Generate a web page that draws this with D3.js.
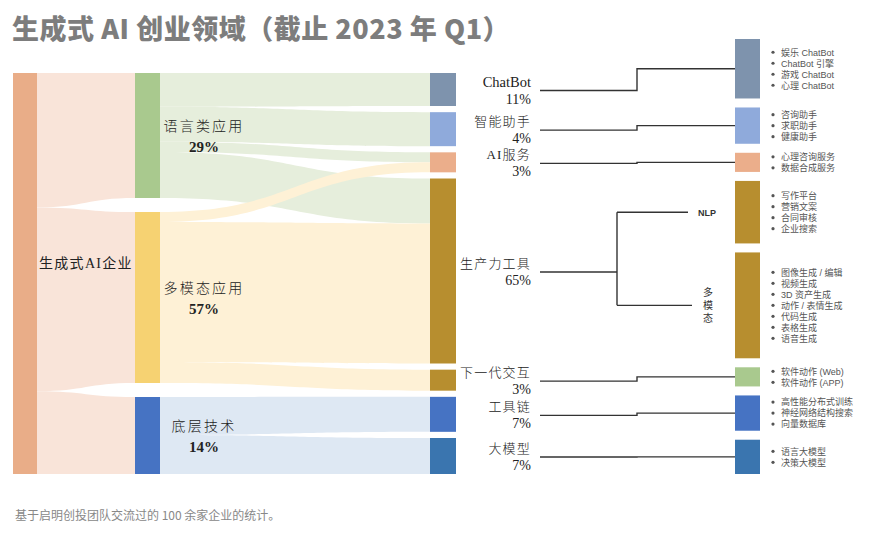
<!DOCTYPE html>
<html><head><meta charset="utf-8">
<script src="https://cdn.jsdelivr.net/npm/d3@7"></script>
<style>body{margin:0;background:#fff} svg{display:block}</style>
</head><body>
<svg id="chart" width="877" height="546"></svg>
<script>
// ---------- data ----------
const title = "生成式 AI 创业领域（截止 2023 年 Q1）";
const footnote = "基于启明创投团队交流过的 100 余家企业的统计。";

const rootName = "生成式AI企业";
const groups = ["语言类应用", "多模态应用", "底层技术"];
const groupPct = ["29%", "57%", "14%"];
const groupFlow = [125, 171, 77];            // flow units root -> group

const categories = ["ChatBot", "智能助手", "AI服务", "生产力工具", "下一代交互", "工具链", "大模型"];
const categoryPct = ["11%", "4%", "3%", "65%", "3%", "7%", "7%"];

const linkSource = [0, 0, 0, 0, 1, 1, 1, 2, 2];
const linkTarget = [0, 1, 2, 3, 2, 3, 4, 5, 6];
const linkValue  = [33, 34, 10, 45, 10, 140, 21, 35, 36];

const detailCategory = [0, 1, 2, 3, 3, 4, 5, 6];
const detailBranch = ["", "", "", "NLP", "多模态", "", "", ""];
const detailWeight = [59, 36, 19, 62, 105, 19, 35, 34];
const detailItems = [
  ["娱乐 ChatBot", "ChatBot 引擎", "游戏 ChatBot", "心理 ChatBot"],
  ["咨询助手", "求职助手", "健康助手"],
  ["心理咨询服务", "数据合成服务"],
  ["写作平台", "营销文案", "合同审核", "企业搜索"],
  ["图像生成 / 编辑", "视频生成", "3D 资产生成", "动作 / 表情生成", "代码生成", "表格生成", "语音生成"],
  ["软件动作 (Web)", "软件动作 (APP)"],
  ["高性能分布式训练", "神经网络结构搜索", "向量数据库"],
  ["语言大模型", "决策大模型"]
];

// ---------- styles ----------
const rootColor = "#E9AD88", rootLink = "#F9E4D9";
const groupColors = ["#A9C98E", "#F6D272", "#4673C3"];
const groupLinkColors = ["#E6EEDC", "#FEF1D6", "#DEE8F3"];
const catColors = ["#7E93AD", "#8FAADB", "#EBAE8B", "#B78E2F", "#B78E2F", "#4673C3", "#3A75AF"];
const detailColors = ["#7E93AD", "#8FAADB", "#EBAE8B", "#B78E2F", "#B78E2F", "#A9C98E", "#4673C3", "#3A75AF"];
const serif = "'Liberation Serif','Noto Sans CJK SC',serif";
const sans = "'Noto Sans CJK SC','Noto Sans',sans-serif";
const smallSans = "'Liberation Sans','Noto Sans CJK SC',sans-serif";

// ---------- layout ----------
const svg = d3.select("#chart");
const yTop = 73, yBottom = 474, H = yBottom - yTop;
const xRoot = [13, 37], xGroup = [135, 160], xCat = [430, 456], xDetail = [735, 760];

const padMid = 14;
const k = (H - padMid * (groups.length - 1)) / d3.sum(groupFlow);
const unit = d3.scaleLinear().domain([0, 1]).range([0, k]);

// group nodes
let yy = yTop;
const groupNodes = groups.map((g, i) => {
  const h = unit(groupFlow[i]);
  const n = {y0: yy, y1: yy + h};
  yy += h + padMid;
  return n;
});
// category nodes
const catValue = categories.map((c, j) => d3.sum(linkValue.filter((v, i) => linkTarget[i] === j)));
const padCat = (H - unit(d3.sum(catValue))) / (categories.length - 1);
yy = yTop;
const catNodes = categories.map((c, j) => {
  const h = unit(catValue[j]);
  const n = {y0: yy, y1: yy + h};
  yy += h + padCat;
  return n;
});

// root -> group bands (proportional over the root node)
const rootScale = d3.scaleLinear().domain([0, d3.sum(groupFlow)]).range([yTop, yBottom]);
const cum = d3.cumsum(groupFlow);
const rootLinks = groups.map((g, i) => ({
  x0: xRoot[1], x1: xGroup[0],
  s0: rootScale(cum[i] - groupFlow[i]), s1: rootScale(cum[i]),
  t0: groupNodes[i].y0, t1: groupNodes[i].y1, color: rootLink
}));

// group -> category bands
const srcOff = groups.map(() => 0), tgtOff = categories.map(() => 0);
const groupOut = groups.map((g, i) => d3.sum(linkValue.filter((v, l) => linkSource[l] === i)));
const catLinks = linkValue.map((v, l) => {
  const s = linkSource[l], t = linkTarget[l];
  const gs = d3.scaleLinear().domain([0, groupOut[s]]).range([groupNodes[s].y0, groupNodes[s].y1]);
  const cs = d3.scaleLinear().domain([0, catValue[t]]).range([catNodes[t].y0, catNodes[t].y1]);
  const lk = {x0: xGroup[1], x1: xCat[0],
    s0: gs(srcOff[s]), s1: gs(srcOff[s] + v),
    t0: cs(tgtOff[t]), t1: cs(tgtOff[t] + v), color: groupLinkColors[s]};
  srcOff[s] += v; tgtOff[t] += v;
  return lk;
});

function ribbon(d) {
  const p = d3.path(), xm = (d.x0 + d.x1) / 2;
  p.moveTo(d.x0, d.s0);
  p.bezierCurveTo(xm, d.s0, xm, d.t0, d.x1, d.t0);
  p.lineTo(d.x1, d.t1);
  p.bezierCurveTo(xm, d.t1, xm, d.s1, d.x0, d.s1);
  p.closePath();
  return p.toString();
}

svg.append("g").selectAll("path").data(rootLinks.concat(catLinks)).join("path")
  .attr("d", ribbon).attr("fill", d => d.color);

// nodes
svg.append("rect").attr("x", xRoot[0]).attr("y", yTop).attr("width", xRoot[1] - xRoot[0])
  .attr("height", H).attr("fill", rootColor);
svg.append("g").selectAll("rect").data(groupNodes).join("rect")
  .attr("x", xGroup[0]).attr("y", d => d.y0).attr("width", xGroup[1] - xGroup[0])
  .attr("height", d => d.y1 - d.y0).attr("fill", (d, i) => groupColors[i]);
svg.append("g").selectAll("rect").data(catNodes).join("rect")
  .attr("x", xCat[0]).attr("y", d => d.y0).attr("width", xCat[1] - xCat[0])
  .attr("height", d => d.y1 - d.y0).attr("fill", (d, i) => catColors[i]);

// root label
svg.append("text").attr("x", 39).attr("y", (yTop + yBottom) / 2 - 6)
  .attr("font-family", serif).attr("font-size", 14).attr("letter-spacing", 1.3)
  .attr("fill", "#222").text(rootName);

// group labels
groupNodes.forEach((n, i) => {
  const cy = (n.y0 + n.y1) / 2 - 10;
  svg.append("text").attr("x", 204).attr("y", cy + 5).attr("text-anchor", "middle")
    .attr("font-family", serif).attr("font-size", 14).attr("letter-spacing", 2.2)
    .attr("font-weight", 300).attr("fill", "#222").text(groups[i]);
  svg.append("text").attr("x", 204).attr("y", cy + 26).attr("text-anchor", "middle")
    .attr("font-family", serif).attr("font-size", 15).attr("font-weight", "bold")
    .attr("fill", "#222").text(groupPct[i]);
});

// detail column
const dTop = 39, dBottom = 474, padD = 9;
const kd = (dBottom - dTop - padD * (detailWeight.length - 1)) / d3.sum(detailWeight);
const dUnit = d3.scaleLinear().domain([0, 1]).range([0, kd]);
yy = dTop;
const detailNodes = detailWeight.map((w, i) => {
  const h = dUnit(w);
  const n = {y0: yy, y1: yy + h, cy: yy + h / 2};
  yy += h + padD;
  return n;
});
svg.append("g").selectAll("rect").data(detailNodes).join("rect")
  .attr("x", xDetail[0]).attr("y", d => d.y0).attr("width", xDetail[1] - xDetail[0])
  .attr("height", d => d.y1 - d.y0).attr("fill", (d, i) => detailColors[i]);

detailNodes.forEach((n, i) => {
  const items = detailItems[i], lh = 11;
  const y0 = n.cy - (items.length - 1) * lh / 2;
  items.forEach((t, j) => {
    svg.append("circle").attr("cx", 773).attr("cy", y0 + j * lh).attr("r", 1.6).attr("fill", "#555");
    svg.append("text").attr("x", 781).attr("y", y0 + j * lh + 3.3)
      .attr("font-family", smallSans).attr("font-size", 9).attr("fill", "#555").text(t);
  });
});

// category labels and connectors
const lineG = svg.append("g").attr("fill", "none").attr("stroke", "#333").attr("stroke-width", 1.4);
catNodes.forEach((n, j) => {
  const ly = (n.y0 + n.y1) / 2 + 1;
  const isCJK = /[\u4e00-\u9fff]/.test(categories[j]);
  svg.append("text").attr("x", 531).attr("y", ly - 4).attr("text-anchor", "end")
    .attr("font-family", serif).attr("font-size", isCJK ? 13 : 14.5)
    .attr("letter-spacing", isCJK ? 1.2 : 0).attr("font-weight", isCJK ? 300 : "normal")
    .attr("fill", "#222").text(categories[j]);
  svg.append("text").attr("x", 531).attr("y", ly + 13).attr("text-anchor", "end")
    .attr("font-family", serif).attr("font-size", 14).attr("fill", "#222").text(categoryPct[j]);
  const det = detailNodes.filter((d, i) => detailCategory[i] === j);
  const detIdx = detailCategory.map((c, i) => c === j ? i : -1).filter(i => i >= 0);
  if (det.length === 1) {
    lineG.append("path").attr("d", `M540,${ly}H637V${det[0].cy}H${xDetail[0]}`);
  } else {
    const bx = 617;
    lineG.append("path").attr("d", `M540,${ly}H${bx}`);
    lineG.append("path").attr("d", `M${bx},${det[0].cy}V${det[det.length - 1].cy}`);
    det.forEach((d, m) => {
      lineG.append("path").attr("d", `M${bx},${d.cy}H${m === 0 ? 688 : 692}`);
      const label = detailBranch[detIdx[m]];
      if (m === 0) {
        svg.append("text").attr("x", 698).attr("y", d.cy + 3.5)
          .attr("font-family", smallSans).attr("font-size", 9).attr("font-weight", "bold")
          .attr("fill", "#333").text(label);
      } else {
        Array.from(label).forEach((ch, c) => {
          svg.append("text").attr("x", 708).attr("y", d.cy + (c - 1) * 13 + 4)
            .attr("text-anchor", "middle").attr("font-family", serif).attr("font-size", 10)
            .attr("fill", "#333").text(ch);
        });
      }
    });
  }
});

// title & footnote
svg.append("text").attr("x", 12).attr("y", 39).attr("font-family", sans)
  .attr("font-size", 27).attr("font-weight", 900).attr("letter-spacing", 0.5)
  .attr("fill", "#7d7d7d").text(title);
svg.append("text").attr("x", 15).attr("y", 520).attr("font-family", sans)
  .attr("font-size", 12).attr("fill", "#888").text(footnote);
</script>
</body></html>
